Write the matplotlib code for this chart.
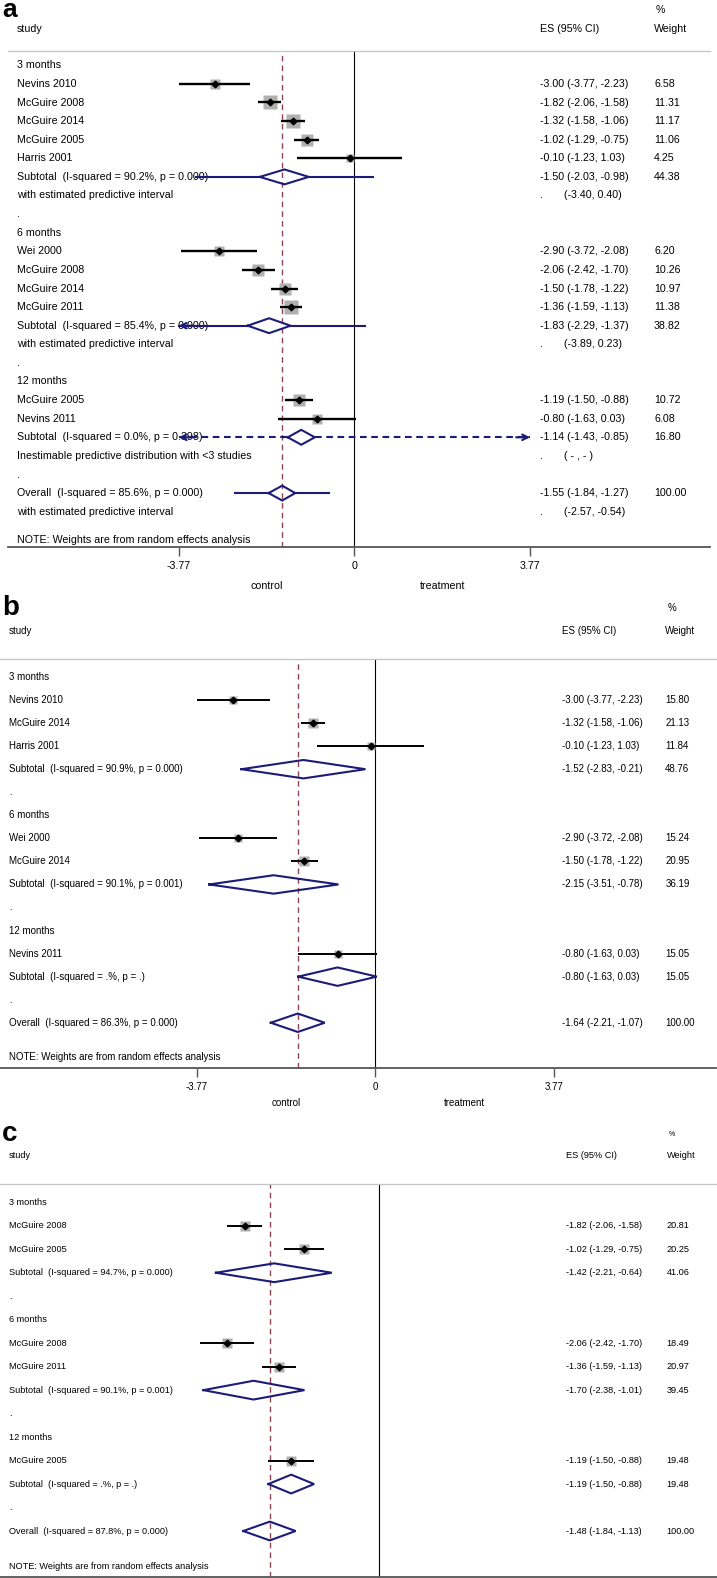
import math
import matplotlib
matplotlib.use("Agg")
import matplotlib.pyplot as plt

plt.rcParams['font.family'] = ['Liberation Sans', 'DejaVu Sans']

W, H = 717, 1578
NAVY = '#1c1c78'
MAROON = '#8e4453'
BOX_GREY = '#b0b0b0'
INF = float('inf')

# ---------------- panel a ----------------
A_LABELS = ["3 months", "Nevins 2010", "McGuire 2008", "McGuire 2014", "McGuire 2005", "Harris 2001",
            "Subtotal  (I-squared = 90.2%, p = 0.000)", "with estimated predictive interval", ".",
            "6 months", "Wei 2000", "McGuire 2008", "McGuire 2014", "McGuire 2011",
            "Subtotal  (I-squared = 85.4%, p = 0.000)", "with estimated predictive interval", ".",
            "12 months", "McGuire 2005", "Nevins 2011",
            "Subtotal  (I-squared = 0.0%, p = 0.398)", "Inestimable predictive distribution with <3 studies", ".",
            "Overall  (I-squared = 85.6%, p = 0.000)", "with estimated predictive interval"]
A_KIND = ["head", "study", "study", "study", "study", "study", "sub", "pred", "dot",
          "head", "study", "study", "study", "study", "sub", "pred", "dot",
          "head", "study", "study", "sub", "pred", "dot",
          "overall", "pred"]
A_ES = [None, -3.00, -1.82, -1.32, -1.02, -0.10, -1.50, None, None,
        None, -2.90, -2.06, -1.50, -1.36, -1.83, None, None,
        None, -1.19, -0.80, -1.14, None, None,
        -1.55, None]
A_LO = [None, -3.77, -2.06, -1.58, -1.29, -1.23, -2.03, None, None,
        None, -3.72, -2.42, -1.78, -1.59, -2.29, None, None,
        None, -1.50, -1.63, -1.43, None, None,
        -1.84, None]
A_HI = [None, -2.23, -1.58, -1.06, -0.75, 1.03, -0.98, None, None,
        None, -2.08, -1.70, -1.22, -1.13, -1.37, None, None,
        None, -0.88, 0.03, -0.85, None, None,
        -1.27, None]
A_WT = [None, 6.58, 11.31, 11.17, 11.06, 4.25, 44.38, None, None,
        None, 6.20, 10.26, 10.97, 11.38, 38.82, None, None,
        None, 10.72, 6.08, 16.80, None, None,
        100.00, None]
# predictive intervals (on the row below each pooled estimate; inf = inestimable)
A_PLO = [None] * 7 + [-3.40] + [None] * 7 + [-3.89] + [None] * 5 + [-INF] + [None] * 2 + [-2.57]
A_PHI = [None] * 7 + [0.40] + [None] * 7 + [0.23] + [None] * 5 + [INF] + [None] * 2 + [-0.54]

# ---------------- panel b ----------------
B_LABELS = ["3 months", "Nevins 2010", "McGuire 2014", "Harris 2001",
            "Subtotal  (I-squared = 90.9%, p = 0.000)", ".",
            "6 months", "Wei 2000", "McGuire 2014",
            "Subtotal  (I-squared = 90.1%, p = 0.001)", ".",
            "12 months", "Nevins 2011", "Subtotal  (I-squared = .%, p = .)", ".",
            "Overall  (I-squared = 86.3%, p = 0.000)"]
B_KIND = ["head", "study", "study", "study", "sub", "dot",
          "head", "study", "study", "sub", "dot",
          "head", "study", "sub", "dot", "overall"]
B_ES = [None, -3.00, -1.32, -0.10, -1.52, None, None, -2.90, -1.50, -2.15, None, None, -0.80, -0.80, None, -1.64]
B_LO = [None, -3.77, -1.58, -1.23, -2.83, None, None, -3.72, -1.78, -3.51, None, None, -1.63, -1.63, None, -2.21]
B_HI = [None, -2.23, -1.06, 1.03, -0.21, None, None, -2.08, -1.22, -0.78, None, None, 0.03, 0.03, None, -1.07]
B_WT = [None, 15.80, 21.13, 11.84, 48.76, None, None, 15.24, 20.95, 36.19, None, None, 15.05, 15.05, None, 100.00]

# ---------------- panel c ----------------
C_LABELS = ["3 months", "McGuire 2008", "McGuire 2005",
            "Subtotal  (I-squared = 94.7%, p = 0.000)", ".",
            "6 months", "McGuire 2008", "McGuire 2011",
            "Subtotal  (I-squared = 90.1%, p = 0.001)", ".",
            "12 months", "McGuire 2005", "Subtotal  (I-squared = .%, p = .)", ".",
            "Overall  (I-squared = 87.8%, p = 0.000)"]
C_KIND = ["head", "study", "study", "sub", "dot",
          "head", "study", "study", "sub", "dot",
          "head", "study", "sub", "dot", "overall"]
C_ES = [None, -1.82, -1.02, -1.42, None, None, -2.06, -1.36, -1.70, None, None, -1.19, -1.19, None, -1.48]
C_LO = [None, -2.06, -1.29, -2.21, None, None, -2.42, -1.59, -2.38, None, None, -1.50, -1.50, None, -1.84]
C_HI = [None, -1.58, -0.75, -0.64, None, None, -1.70, -1.13, -1.01, None, None, -0.88, -0.88, None, -1.13]
C_WT = [None, 20.81, 20.25, 41.06, None, None, 18.49, 20.97, 39.45, None, None, 19.48, 19.48, None, 100.00]

TICKS = [-3.77, 0, 3.77]
TICK_LABELS = ["-3.77", "0", "3.77"]
NOTE = "NOTE: Weights are from random effects analysis"

fig = plt.figure(figsize=(W / 100, H / 100), dpi=100)


def draw_panel(letter, box, row0, dy, x0, k, fs, labels, kind, es, lo, hi, wt,
               plo=None, phi=None, box_scale=2.0, ci_lw=1.5, col_x=(17, 540, 654),
               head_y=(10, 29), letter_fs=19, pct_fs=None, ticks=True, side_y=None):
    l, t, r, b = box
    ax = fig.add_axes([l / W, 1 - b / H, (r - l) / W, (b - t) / H])
    px2x = lambda p: (p - x0) / k
    px2y = lambda p: (p - row0) / dy
    ax.set_xlim(px2x(l), px2x(r))
    ax.set_ylim(px2y(b), px2y(t))
    for s in ('left', 'right'):
        ax.spines[s].set_visible(False)
    ax.spines['top'].set_color('#c4c4c4')
    ax.spines['top'].set_linewidth(0.9)
    ax.spines['bottom'].set_color('#555555')
    ax.spines['bottom'].set_linewidth(1.3)
    ax.set_yticks([])
    if ticks:
        ax.set_xticks(TICKS)
        ax.set_xticklabels(TICK_LABELS, fontsize=fs)
        ax.tick_params(axis='x', length=6.5, width=1.0, color='#555555', pad=3.5)
    else:
        ax.set_xticks([])

    lim = TICKS[-1]
    ax.axvline(0, color='black', lw=0.8, zorder=1)
    overall = [e for e, kd in zip(es, kind) if kd == 'overall'][0]
    ax.axvline(overall, color=MAROON, lw=1.0, ls=(0, (4, 3)), zorder=1)

    xl, xe, xw = (px2x(c) for c in col_x)
    for i, lab in enumerate(labels):
        kd = kind[i]
        ax.text(xl, i, lab, fontsize=fs, va='center', ha='left', clip_on=False)
        if kd == 'study':
            side = box_scale * math.sqrt(wt[i]) * 0.72
            ax.plot(es[i], i, marker='s', ms=side, color=BOX_GREY, mec='none', zorder=2)
            ax.plot([lo[i], hi[i]], [i, i], color='black', lw=ci_lw, zorder=3, solid_capstyle='butt')
            ax.plot(es[i], i, marker='D', ms=3.4, color='black', zorder=4)
        if kd in ('sub', 'overall'):
            ax.plot([lo[i], es[i], hi[i], es[i], lo[i]], [i, i - 0.4, i, i + 0.4, i],
                    color=NAVY, lw=1.5, zorder=4, solid_joinstyle='miter')
            if plo is not None and i + 1 < len(labels) and plo[i + 1] is not None:
                p_lo, p_hi = plo[i + 1], phi[i + 1]
                dashed = math.isinf(p_lo)
                ls = (0, (3.2, 2.2)) if dashed else '-'
                a_lo, a_hi = max(p_lo, -lim), min(p_hi, lim)
                ax.plot([a_lo, lo[i]], [i, i], color=NAVY, lw=1.5, ls=ls, zorder=3)
                ax.plot([hi[i], a_hi], [i, i], color=NAVY, lw=1.5, ls=ls, zorder=3)
                if p_lo < -lim:
                    ax.annotate('', xy=(a_lo, i), xytext=(a_lo + 0.3, i),
                                arrowprops=dict(arrowstyle='->', color=NAVY, lw=1.5,
                                                mutation_scale=10, shrinkA=0, shrinkB=0))
                if p_hi > lim:
                    ax.annotate('', xy=(a_hi, i), xytext=(a_hi - 0.3, i),
                                arrowprops=dict(arrowstyle='->', color=NAVY, lw=1.5,
                                                mutation_scale=10, shrinkA=0, shrinkB=0))
        if kd in ('study', 'sub', 'overall'):
            ax.text(xe, i, f"{es[i]:.2f} ({lo[i]:.2f}, {hi[i]:.2f})", fontsize=fs, va='center', clip_on=False)
            ax.text(xw, i, f"{wt[i]:.2f}", fontsize=fs, va='center', clip_on=False)
        if kd == 'pred' and plo is not None:
            ax.text(xe, i, ".", fontsize=fs, va='center', clip_on=False)
            if math.isinf(plo[i]):
                txt = "( - , - )"
            else:
                txt = f"({plo[i]:.2f}, {phi[i]:.2f})"
            ax.text(px2x(col_x[1] + 24), i, txt, fontsize=fs, va='center', clip_on=False)

    note_row = len(labels) + 0.5
    ax.text(xl, note_row, NOTE, fontsize=fs, va='center', clip_on=False)

    # headers
    fig.text(2 / W, 1 - head_y[0] / H, letter, fontsize=letter_fs, fontweight='bold', va='center', ha='left')
    fig.text((col_x[2] + 2) / W, 1 - head_y[0] / H, "%", fontsize=pct_fs or fs, va='center', ha='left')
    fig.text(col_x[0] / W, 1 - head_y[1] / H, "study", fontsize=fs, va='center', ha='left')
    fig.text(col_x[1] / W, 1 - head_y[1] / H, "ES (95% CI)", fontsize=fs, va='center', ha='left')
    fig.text(col_x[2] / W, 1 - head_y[1] / H, "Weight", fontsize=fs, va='center', ha='left')

    if side_y is not None:
        ax.text(-lim / 2, px2y(side_y), "control", fontsize=fs, ha='center', va='center', clip_on=False)
        ax.text(lim / 2, px2y(side_y), "treatment", fontsize=fs, ha='center', va='center', clip_on=False)
    return ax


draw_panel("a", (8, 51.3, 710, 547.3), 65.3, 18.6, 354.4, 46.6, 7.7,
           A_LABELS, A_KIND, A_ES, A_LO, A_HI, A_WT, A_PLO, A_PHI,
           box_scale=3.9, ci_lw=1.7, col_x=(17, 539.5, 654), head_y=(10, 28.7),
           letter_fs=19, side_y=586.3)

draw_panel("b", (0, 659.3, 716, 1067.7), 677, 23.05, 375.4, 47.35, 7.0,
           B_LABELS, B_KIND, B_ES, B_LO, B_HI, B_WT,
           box_scale=2.2, ci_lw=1.4, col_x=(9, 562.4, 665.3), head_y=(608, 630.7),
           letter_fs=20, side_y=1102.7)

draw_panel("c", (0, 1184.3, 717, 1577), 1202.3, 23.48, 379, 73.8, 6.6,
           C_LABELS, C_KIND, C_ES, C_LO, C_HI, C_WT,
           box_scale=2.1, ci_lw=1.4, col_x=(9, 566, 666.7), head_y=(1134, 1155.7),
           letter_fs=20, pct_fs=5, ticks=False)

fig.savefig("out.png", dpi=100)
